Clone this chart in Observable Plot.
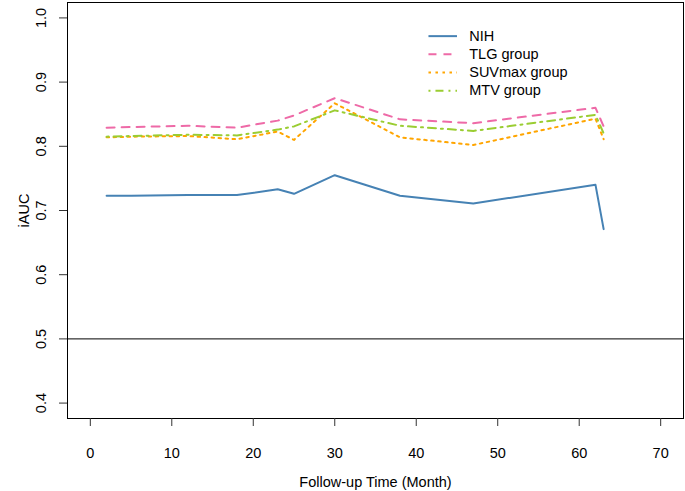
<!DOCTYPE html>
<html><head><meta charset="utf-8">
<script src="https://cdn.jsdelivr.net/npm/d3@7"></script>
<script src="https://cdn.jsdelivr.net/npm/@observablehq/plot@0.6"></script>
<style>body{margin:0;background:#fff}#chart{width:685px;height:491px}</style>
</head><body><div id="chart"></div>
<script>
// ---- data ----
const months = [2, 5, 12, 18, 23, 25, 30, 38, 47, 62, 63];
const nih    = [0.723, 0.723, 0.724, 0.724, 0.733, 0.726, 0.755, 0.723, 0.711, 0.740, 0.671];
const tlg    = [0.829, 0.830, 0.832, 0.829, 0.840, 0.848, 0.875, 0.842, 0.836, 0.860, 0.831];
const suvmax = [0.814, 0.815, 0.816, 0.811, 0.823, 0.810, 0.867, 0.814, 0.802, 0.843, 0.811];
const mtv    = [0.815, 0.816, 0.818, 0.817, 0.826, 0.831, 0.856, 0.832, 0.824, 0.849, 0.820];
const seriesNames = ["NIH", "TLG group", "SUVmax group", "MTV group"];
const seriesValues = [nih, tlg, suvmax, mtv];
const xTicks = [0, 10, 20, 30, 40, 50, 60, 70];
const yTicks = [0.4, 0.5, 0.6, 0.7, 0.8, 0.9, 1.0];
const xTitle = "Follow-up Time (Month)";
const yTitle = "iAUC";
const refLine = 0.5;

// ---- styles ----
const seriesStyles = [
  {color: "#4682B4", dash: null},
  {color: "#EE6AA7", dash: "8,7"},
  {color: "#FFA500", dash: "2.5,4.5"},
  {color: "#9ACD32", dash: "2,5,8,5"}
];
const FONT = "'Liberation Sans', Arial, Helvetica, sans-serif";

const rows = seriesNames.flatMap((name, k) =>
  months.map((m, i) => ({series: name, month: m, value: seriesValues[k][i]})));

// legend placement (in data units, like R's legend())
const legX1 = 41.5, legX2 = 45.0, legTextX = 46.5, legTop = 0.9716, legStep = 0.0284;
const legendRows = seriesNames.map((name, k) => ({name, k, y: legTop - k * legStep}));

const marks = [
  Plot.ruleY([refLine], {stroke: "black", strokeWidth: 1}),
  ...seriesNames.map((name, k) => Plot.line(rows.filter(r => r.series === name), {
    x: "month", y: "value", stroke: seriesStyles[k].color, strokeWidth: 2,
    ...(seriesStyles[k].dash ? {strokeDasharray: seriesStyles[k].dash} : {})
  })),
  ...legendRows.map(r => Plot.link([r], {
    x1: () => legX1, x2: () => legX2, y1: "y", y2: "y",
    stroke: seriesStyles[r.k].color, strokeWidth: 2,
    ...(seriesStyles[r.k].dash ? {strokeDasharray: seriesStyles[r.k].dash} : {})
  })),
  Plot.text(legendRows, {x: () => legTextX, y: "y", text: "name", textAnchor: "start", lineAnchor: "middle", fill: "black"}),
  Plot.frame({stroke: "black", strokeWidth: 1}),
  Plot.axisX(xTicks, {tickSize: 8, tickPadding: 21, label: null, tickFormat: d => String(d), stroke: "#333"}),
  Plot.axisY(yTicks, {tickSize: 8, tickPadding: 14, tickRotate: -90, label: null, tickFormat: d => d.toFixed(1), stroke: "#333"}),
  Plot.text([xTitle], {frameAnchor: "bottom", dy: 68, lineAnchor: "bottom", textAnchor: "middle", text: d => d, fill: "black"}),
  Plot.text([yTitle], {frameAnchor: "left", dx: -39, rotate: -90, lineAnchor: "bottom", textAnchor: "middle", text: d => d, fill: "black"})
];

const chart = Plot.plot({
  width: 685,
  height: 491,
  marginTop: 2,
  marginLeft: 67,
  marginRight: 2,
  marginBottom: 73,
  style: {fontSize: "14.5px", fontFamily: FONT, background: "white", color: "black"},
  x: {domain: [-2.8, 72.8], axis: null},
  y: {domain: [0.376, 1.024], axis: null},
  marks
});
document.getElementById("chart").appendChild(chart);
</script>
</body></html>
